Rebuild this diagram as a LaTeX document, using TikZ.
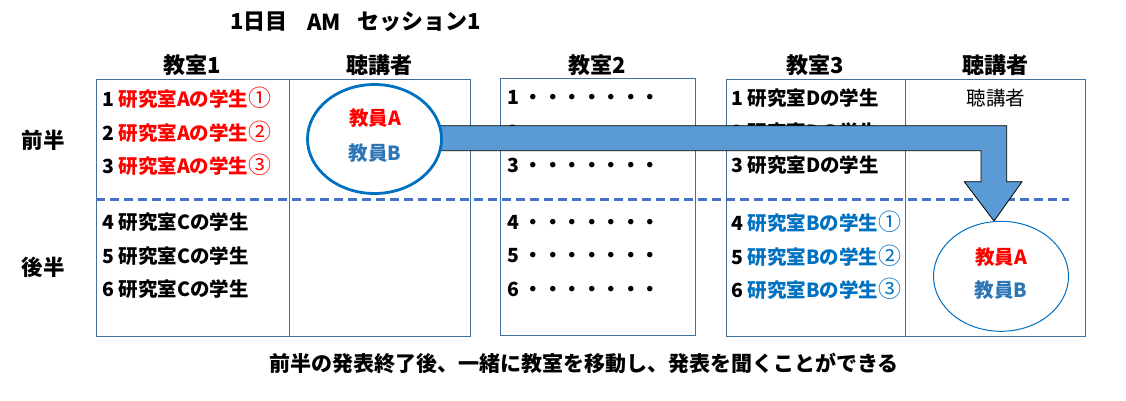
\documentclass[tikz,border=0pt]{standalone}
\usepackage{fontspec}
\setmainfont{Noto Sans CJK JP}
\usetikzlibrary{shapes.geometric}
\definecolor{framec}{HTML}{41719C}
\definecolor{dashc}{HTML}{4472C4}
\definecolor{arrowc}{HTML}{5B9BD5}
\definecolor{ellc}{HTML}{0070C0}
\definecolor{tred}{RGB}{255,0,0}
\definecolor{tblue}{HTML}{2E75B6}
\definecolor{labb}{HTML}{0070C0}
\newcommand\cnum[1]{{\mdseries\fontsize{23}{23}\selectfont\raisebox{-0.6pt}{#1}}}
\begin{document}
\begin{tikzpicture}[x=1pt,y=-1pt,
  cell/.style={draw=framec, line width=1.2pt, anchor=north west, inner sep=0pt},
  rowtxt/.style={anchor=west, inner sep=0pt, font=\fontsize{19.5}{23}\selectfont\bfseries},
  hdr/.style={inner sep=0pt, font=\fontsize{22}{26}\selectfont\bfseries},
  teach/.style={inner sep=0pt, font=\fontsize{19.5}{23}\selectfont\bfseries},
  blockarrow/.style={fill=arrowc, draw=black, line width=0.8pt, line join=miter}
]
\useasboundingbox (0,0) rectangle (1126,400);
% title
\node[hdr, anchor=west] (t1) at (230,22) {1日目};
\node[hdr, anchor=west] (t2) at (307,22) {AM};
\node[hdr, anchor=west] (t3) at (357,22) {セッション1};
% headers
\node[hdr] (h1) at (192.5,65) {教室1};
\node[hdr] (h2) at (379.5,65) {聴講者};
\node[hdr] (h3) at (597.5,65) {教室2};
\node[hdr] (h4) at (815.5,65) {教室3};
\node[hdr] (h5) at (995,65) {聴講者};
% side labels
\node[hdr, font=\fontsize{21.5}{26}\selectfont\bfseries] (zen) at (43,140) {前半};
\node[hdr, font=\fontsize{21.5}{26}\selectfont\bfseries] (kou) at (43,267) {後半};
% cells
\node[cell, minimum width=193pt, minimum height=257pt] (c1a) at (96,79) {};
\node[cell, minimum width=181pt, minimum height=257pt] (c1b) at (289,79) {};
\node[cell, minimum width=195pt, minimum height=257pt] (c2) at (500,78) {};
\node[cell, minimum width=179pt, minimum height=257pt] (c3a) at (726,79) {};
\node[cell, minimum width=180pt, minimum height=257pt] (c3b) at (905,79) {};
% room 1 rows
\node[rowtxt] (r11) at (102,98) {1 \textcolor{tred}{研究室Aの学生\cnum{①}}};
\node[rowtxt] (r12) at (102,132) {2 \textcolor{tred}{研究室Aの学生\cnum{②}}};
\node[rowtxt] (r13) at (102,165) {3 \textcolor{tred}{研究室Aの学生\cnum{③}}};
\node[rowtxt] (r14) at (102,222) {4 研究室Cの学生};
\node[rowtxt] (r15) at (102,256) {5 研究室Cの学生};
\node[rowtxt] (r16) at (102,289) {6 研究室Cの学生};
% room 2 rows
\node[rowtxt] (r21) at (507,97) {1 ・・・・・・・};
\node[rowtxt] (r22) at (507,132) {2 ・・・・・・・};
\node[rowtxt] (r23) at (507,165) {3 ・・・・・・・};
\node[rowtxt] (r24) at (507,222) {4 ・・・・・・・};
\node[rowtxt] (r25) at (507,256) {5 ・・・・・・・};
\node[rowtxt] (r26) at (507,289) {6 ・・・・・・・};
% room 3 rows
\node[rowtxt] (r31) at (731,98) {1 研究室Dの学生};
\node[rowtxt] (r32) at (731,132) {2 研究室Dの学生};
\node[rowtxt] (r33) at (731,165) {3 研究室Dの学生};
\node[rowtxt] (r34) at (731,222) {4 \textcolor{labb}{研究室Bの学生\cnum{①}}};
\node[rowtxt] (r35) at (731,256) {5 \textcolor{labb}{研究室Bの学生\cnum{②}}};
\node[rowtxt] (r36) at (731,289) {6 \textcolor{labb}{研究室Bの学生\cnum{③}}};
\node[inner sep=0pt, font=\fontsize{19.5}{23}\selectfont] (aud) at (996,98) {聴講者};
% dashed divider
\coordinate (dl) at (96,199);
\coordinate (dr) at (1069,199);
\draw[dashc, line width=3pt, dash pattern=on 9pt off 5pt] (dl) -- (dr);
% block arrow
\draw[blockarrow] (400,125.7) -- (1006.7,125.7) -- (1006.7,181.7) -- (1022,181.7)
  -- (994,221) -- (964.3,181.7) -- (981,181.7) -- (981,150.7) -- (400,150.7) -- cycle;
% ellipses
\node[ellipse, draw=ellc, line width=2.8pt, fill=white, minimum width=134pt, minimum height=109pt, inner sep=0pt] (e1) at (374.5,139) {};
\node[teach, text=tred] (e1a) at (375,118) {教員A};
\node[teach, text=tblue] (e1b) at (375,153) {教員B};
\node[ellipse, draw=ellc, line width=1pt, fill=white, minimum width=135pt, minimum height=110pt, inner sep=0pt] (e2) at (1001,276.3) {};
\node[teach, text=tred] (e2a) at (1001,257) {教員A};
\node[teach, text=tblue] (e2b) at (1001,290) {教員B};
% bottom caption
\node[inner sep=0pt, font=\fontsize{21}{25}\selectfont\bfseries] (cap) at (584,363) {前半の発表終了後、一緒に教室を移動し、発表を聞くことができる};
\end{tikzpicture}
\end{document}
